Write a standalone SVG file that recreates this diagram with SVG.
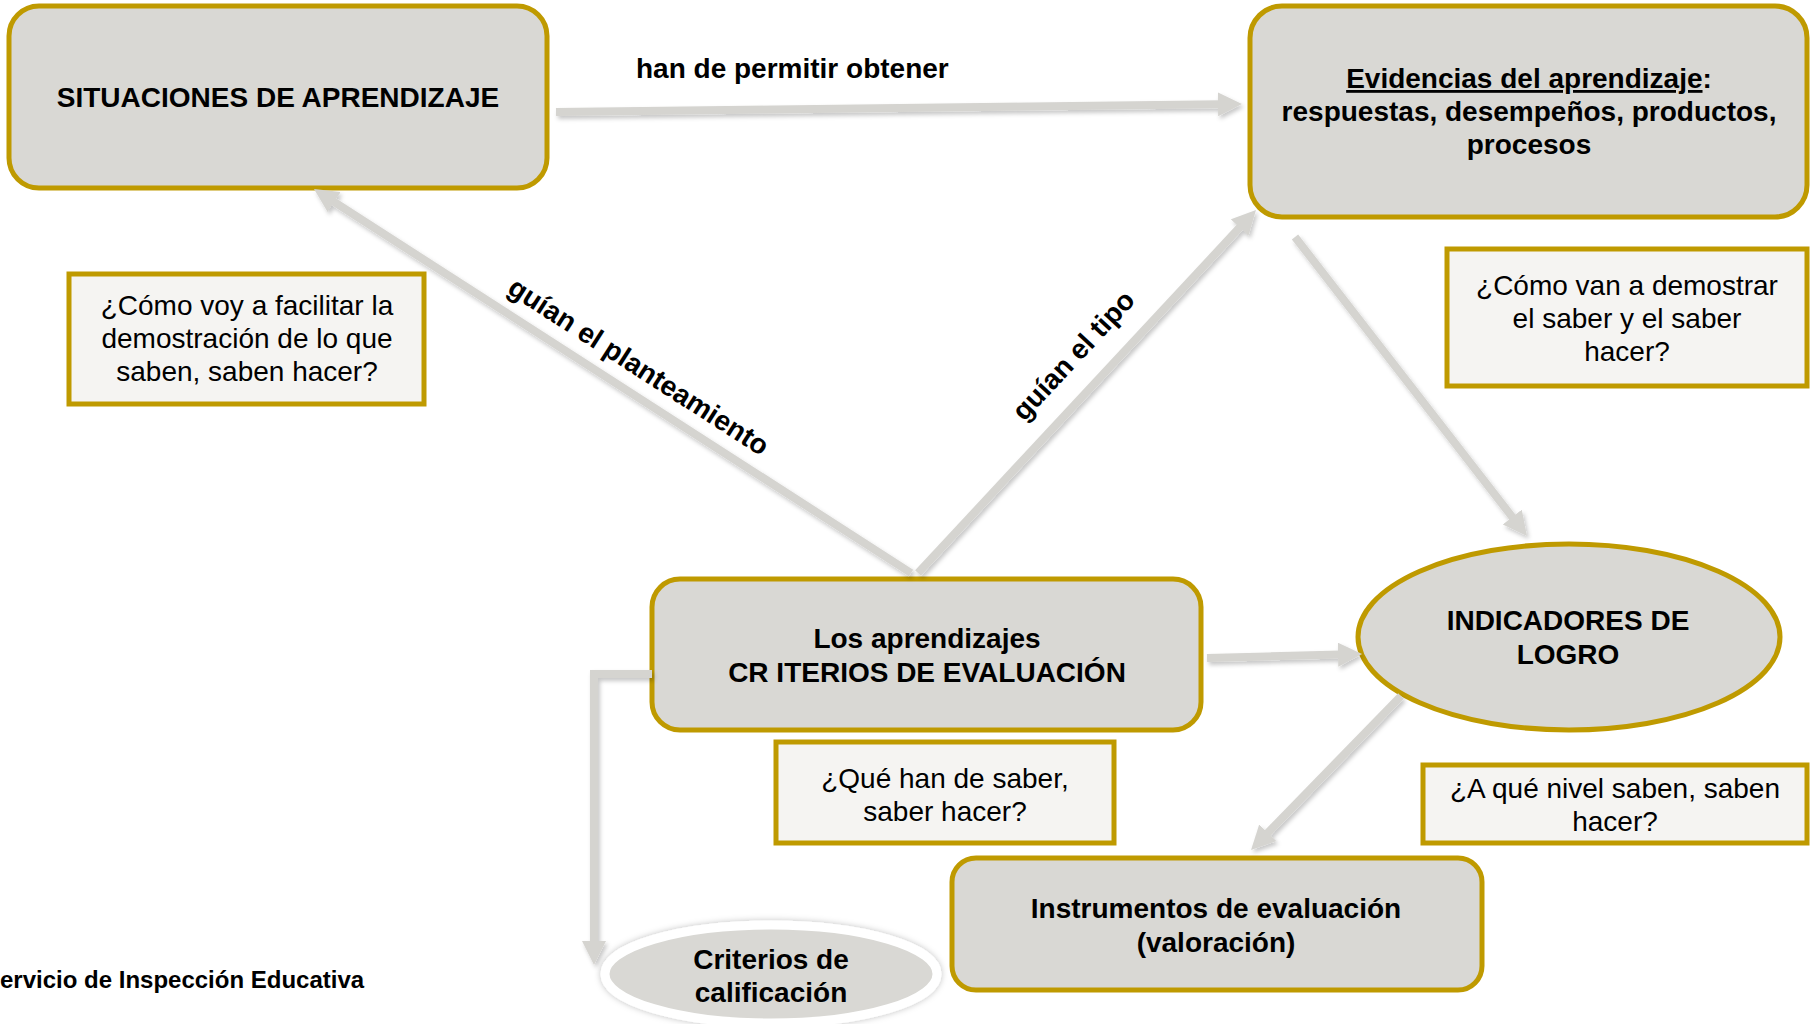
<svg xmlns="http://www.w3.org/2000/svg" width="1816" height="1024" viewBox="0 0 1816 1024">
<style>
.box{fill:#D9D8D4;stroke:#BF9A00;stroke-width:5}
.q{fill:#F5F4F2;stroke:#BF9A00;stroke-width:5}
.t{font-family:"Liberation Sans",Arial,sans-serif;font-size:28px;fill:#000;text-anchor:middle}
.b{font-weight:bold}
.foot{font-family:"Liberation Sans",Arial,sans-serif;font-size:24px;font-weight:bold;fill:#000}
.con{fill:none;stroke:#D5D4D0;stroke-width:8}
</style>
<defs>
<marker id="ah" markerUnits="userSpaceOnUse" markerWidth="26" markerHeight="26" refX="2" refY="12" orient="auto">
<path d="M0,0 L24,12 L0,24 Z" fill="#D5D4D0"/>
</marker>
<filter id="sh" x="-10%" y="-10%" width="120%" height="120%">
<feDropShadow dx="2" dy="3" stdDeviation="2" flood-color="#000" flood-opacity="0.22"/>
</filter>
<filter id="glow" x="-20%" y="-30%" width="140%" height="160%">
<feDropShadow dx="0" dy="0" stdDeviation="3" flood-color="#000" flood-opacity="0.25"/>
</filter>
</defs>

<g id="situaciones">
<rect class="box" x="9" y="6" width="538" height="182" rx="30"/>
<text class="t b" x="278" y="107">SITUACIONES DE APRENDIZAJE</text>
</g>

<g id="evidencias">
<rect class="box" x="1250" y="6" width="557" height="211" rx="32"/>
<text class="t b" x="1529" y="88"><tspan text-decoration="underline">Evidencias del aprendizaje</tspan>:</text>
<text class="t b" x="1529" y="121">respuestas, desempeños, productos,</text>
<text class="t b" x="1529" y="154">procesos</text>
</g>

<g id="q-facilitar">
<rect class="q" x="69" y="274" width="355" height="130"/>
<text class="t" x="247" y="315">¿Cómo voy a facilitar la</text>
<text class="t" x="247" y="348">demostración de lo que</text>
<text class="t" x="247" y="381">saben, saben hacer?</text>
</g>

<g id="q-demostrar">
<rect class="q" x="1447" y="249" width="360" height="137"/>
<text class="t" x="1627" y="295">¿Cómo van a demostrar</text>
<text class="t" x="1627" y="328">el saber y el saber</text>
<text class="t" x="1627" y="361">hacer?</text>
</g>

<g id="criterios-evaluacion">
<rect class="box" x="652" y="579" width="549" height="151" rx="28"/>
<text class="t b" x="927" y="648">Los aprendizajes</text>
<text class="t b" x="927" y="682">CR ITERIOS DE EVALUACIÓN</text>
</g>

<g id="q-saber">
<rect class="q" x="776" y="742" width="338" height="101"/>
<text class="t" x="945" y="788">¿Qué han de saber,</text>
<text class="t" x="945" y="821">saber hacer?</text>
</g>

<g id="indicadores">
<ellipse class="box" cx="1569" cy="637" rx="211" ry="93"/>
<text class="t b" x="1568" y="630">INDICADORES DE</text>
<text class="t b" x="1568" y="664">LOGRO</text>
</g>

<g id="q-nivel">
<rect class="q" x="1423" y="765" width="384" height="78"/>
<text class="t" x="1615" y="798">¿A qué nivel saben, saben</text>
<text class="t" x="1615" y="831">hacer?</text>
</g>

<g id="instrumentos">
<rect class="box" x="952" y="858" width="530" height="132" rx="24"/>
<text class="t b" x="1216" y="918">Instrumentos de evaluación</text>
<text class="t b" x="1216" y="952">(valoración)</text>
</g>

<g id="calificacion">
<ellipse cx="771" cy="974" rx="166" ry="49" fill="#D9D8D4" stroke="#FFFFFF" stroke-width="9" filter="url(#glow)"/>
<text class="t b" x="771" y="969">Criterios de</text>
<text class="t b" x="771" y="1002">calificación</text>
</g>

<g id="connectors" filter="url(#sh)">
<line class="con" x1="556" y1="112" x2="1220" y2="104.3" marker-end="url(#ah)"/>
<line class="con" x1="911" y1="573" x2="332.5" y2="200.9" marker-end="url(#ah)"/>
<line class="con" x1="918" y1="573" x2="1241" y2="226.1" marker-end="url(#ah)"/>
<line class="con" x1="1295" y1="237" x2="1513.5" y2="518.6" marker-end="url(#ah)"/>
<line class="con" x1="1207" y1="658" x2="1340" y2="654.6" marker-end="url(#ah)"/>
<line class="con" x1="1401" y1="696" x2="1266.4" y2="834.2" marker-end="url(#ah)"/>
<path class="con" d="M652,674 L594,674 L594,943" marker-end="url(#ah)"/>
</g>

<g id="labels">
<text class="t b" x="636" y="78" style="text-anchor:start">han de permitir obtener</text>
<text class="t b" transform="translate(639,366) rotate(32.8)" x="0" y="10">guían el planteamiento</text>
<text class="t b" transform="translate(1073,355) rotate(-47.1)" x="0" y="10">guían el tipo</text>
<text class="foot" x="0" y="988">ervicio de Inspección Educativa</text>
</g>
</svg>
